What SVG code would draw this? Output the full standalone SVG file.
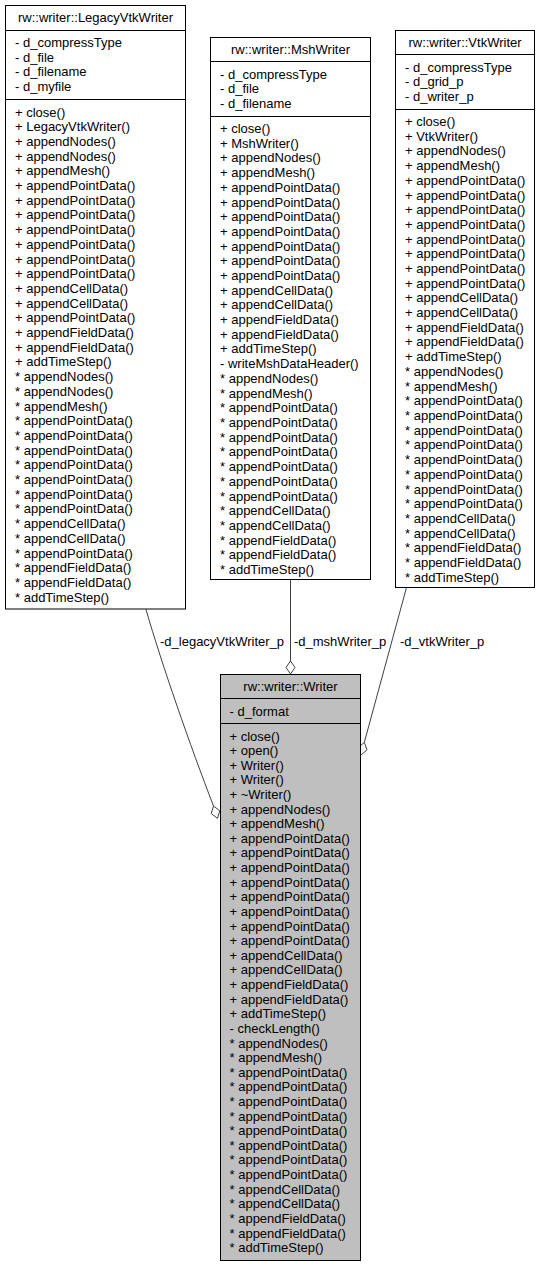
<svg xmlns="http://www.w3.org/2000/svg" width="541" height="1269" viewBox="0 0 541 1269">
<style>
text{font-family:"Liberation Sans",Arial,Helvetica,sans-serif;font-size:13px;fill:#000}
.t{text-anchor:middle}
.box{fill:#fff;stroke:#000;stroke-width:1}
.main{fill:#bfbfbf;stroke:#000;stroke-width:1}
.sep{stroke:#000;stroke-width:1}
.edge{fill:none;stroke:#404040;stroke-width:1}
.dia{fill:#fff;stroke:#404040;stroke-width:1}
</style>
<rect width="541" height="1269" fill="#fff"/>

<g id="connectors">
<path class="edge" d="M146,609.5 C162,665 190,745 213.5,806"/>
<polygon class="dia" points="213.5,806 219.8,810.8 217.5,818.4 211.2,813.6"/>
<path class="edge" d="M290.5,579.5 V661"/>
<polygon class="dia" points="290.5,661 295,667.5 290.5,674 286,667.5"/>
<path class="edge" d="M406.5,587.5 L364.3,742.4"/>
<polygon class="dia" points="364.3,742.4 367,749.85 361,755 358.3,747.55"/>
<text x="160" y="646">-d_legacyVtkWriter_p</text>
<text x="294" y="646">-d_mshWriter_p</text>
<text x="400" y="646">-d_vtkWriter_p</text>
</g>

<g id="LegacyVtkWriter">
<rect class="box" x="5.5" y="5.5" width="180" height="603.5"/>
<line class="sep" x1="5.5" y1="30.5" x2="185.5" y2="30.5"/>
<line class="sep" x1="5.5" y1="99.5" x2="185.5" y2="99.5"/>
<text class="t" x="95.5" y="22">rw::writer::LegacyVtkWriter</text>
<text x="15" y="47"><tspan x="15">- d_compressType</tspan><tspan x="15" dy="14.7">- d_file</tspan><tspan x="15" dy="14.7">- d_filename</tspan><tspan x="15" dy="14.7">- d_myfile</tspan></text>
<text x="15" y="116.5"><tspan x="15">+ close()</tspan><tspan x="15" dy="14.7">+ LegacyVtkWriter()</tspan><tspan x="15" dy="14.7">+ appendNodes()</tspan><tspan x="15" dy="14.7">+ appendNodes()</tspan><tspan x="15" dy="14.7">+ appendMesh()</tspan><tspan x="15" dy="14.7">+ appendPointData()</tspan><tspan x="15" dy="14.7">+ appendPointData()</tspan><tspan x="15" dy="14.7">+ appendPointData()</tspan><tspan x="15" dy="14.7">+ appendPointData()</tspan><tspan x="15" dy="14.7">+ appendPointData()</tspan><tspan x="15" dy="14.7">+ appendPointData()</tspan><tspan x="15" dy="14.7">+ appendPointData()</tspan><tspan x="15" dy="14.7">+ appendCellData()</tspan><tspan x="15" dy="14.7">+ appendCellData()</tspan><tspan x="15" dy="14.7">+ appendPointData()</tspan><tspan x="15" dy="14.7">+ appendFieldData()</tspan><tspan x="15" dy="14.7">+ appendFieldData()</tspan><tspan x="15" dy="14.7">+ addTimeStep()</tspan><tspan x="15" dy="14.7">* appendNodes()</tspan><tspan x="15" dy="14.7">* appendNodes()</tspan><tspan x="15" dy="14.7">* appendMesh()</tspan><tspan x="15" dy="14.7">* appendPointData()</tspan><tspan x="15" dy="14.7">* appendPointData()</tspan><tspan x="15" dy="14.7">* appendPointData()</tspan><tspan x="15" dy="14.7">* appendPointData()</tspan><tspan x="15" dy="14.7">* appendPointData()</tspan><tspan x="15" dy="14.7">* appendPointData()</tspan><tspan x="15" dy="14.7">* appendPointData()</tspan><tspan x="15" dy="14.7">* appendCellData()</tspan><tspan x="15" dy="14.7">* appendCellData()</tspan><tspan x="15" dy="14.7">* appendPointData()</tspan><tspan x="15" dy="14.7">* appendFieldData()</tspan><tspan x="15" dy="14.7">* appendFieldData()</tspan><tspan x="15" dy="14.7">* addTimeStep()</tspan></text>
</g>

<g id="MshWriter">
<rect class="box" x="210.5" y="37.5" width="160" height="542"/>
<line class="sep" x1="210.5" y1="61.5" x2="370.5" y2="61.5"/>
<line class="sep" x1="210.5" y1="116.5" x2="370.5" y2="116.5"/>
<text class="t" x="290.5" y="54">rw::writer::MshWriter</text>
<text x="220" y="78.5"><tspan x="220">- d_compressType</tspan><tspan x="220" dy="14.7">- d_file</tspan><tspan x="220" dy="14.7">- d_filename</tspan></text>
<text x="220" y="133"><tspan x="220">+ close()</tspan><tspan x="220" dy="14.7">+ MshWriter()</tspan><tspan x="220" dy="14.7">+ appendNodes()</tspan><tspan x="220" dy="14.7">+ appendMesh()</tspan><tspan x="220" dy="14.7">+ appendPointData()</tspan><tspan x="220" dy="14.7">+ appendPointData()</tspan><tspan x="220" dy="14.7">+ appendPointData()</tspan><tspan x="220" dy="14.7">+ appendPointData()</tspan><tspan x="220" dy="14.7">+ appendPointData()</tspan><tspan x="220" dy="14.7">+ appendPointData()</tspan><tspan x="220" dy="14.7">+ appendPointData()</tspan><tspan x="220" dy="14.7">+ appendCellData()</tspan><tspan x="220" dy="14.7">+ appendCellData()</tspan><tspan x="220" dy="14.7">+ appendFieldData()</tspan><tspan x="220" dy="14.7">+ appendFieldData()</tspan><tspan x="220" dy="14.7">+ addTimeStep()</tspan><tspan x="220" dy="14.7">- writeMshDataHeader()</tspan><tspan x="220" dy="14.7">* appendNodes()</tspan><tspan x="220" dy="14.7">* appendMesh()</tspan><tspan x="220" dy="14.7">* appendPointData()</tspan><tspan x="220" dy="14.7">* appendPointData()</tspan><tspan x="220" dy="14.7">* appendPointData()</tspan><tspan x="220" dy="14.7">* appendPointData()</tspan><tspan x="220" dy="14.7">* appendPointData()</tspan><tspan x="220" dy="14.7">* appendPointData()</tspan><tspan x="220" dy="14.7">* appendPointData()</tspan><tspan x="220" dy="14.7">* appendCellData()</tspan><tspan x="220" dy="14.7">* appendCellData()</tspan><tspan x="220" dy="14.7">* appendFieldData()</tspan><tspan x="220" dy="14.7">* appendFieldData()</tspan><tspan x="220" dy="14.7">* addTimeStep()</tspan></text>
</g>

<g id="VtkWriter">
<rect class="box" x="395.5" y="30.5" width="139" height="557"/>
<line class="sep" x1="395.5" y1="54.5" x2="534.5" y2="54.5"/>
<line class="sep" x1="395.5" y1="109.5" x2="534.5" y2="109.5"/>
<text class="t" x="465" y="47">rw::writer::VtkWriter</text>
<text x="405" y="71.5"><tspan x="405">- d_compressType</tspan><tspan x="405" dy="14.7">- d_grid_p</tspan><tspan x="405" dy="14.7">- d_writer_p</tspan></text>
<text x="405" y="126"><tspan x="405">+ close()</tspan><tspan x="405" dy="14.7">+ VtkWriter()</tspan><tspan x="405" dy="14.7">+ appendNodes()</tspan><tspan x="405" dy="14.7">+ appendMesh()</tspan><tspan x="405" dy="14.7">+ appendPointData()</tspan><tspan x="405" dy="14.7">+ appendPointData()</tspan><tspan x="405" dy="14.7">+ appendPointData()</tspan><tspan x="405" dy="14.7">+ appendPointData()</tspan><tspan x="405" dy="14.7">+ appendPointData()</tspan><tspan x="405" dy="14.7">+ appendPointData()</tspan><tspan x="405" dy="14.7">+ appendPointData()</tspan><tspan x="405" dy="14.7">+ appendPointData()</tspan><tspan x="405" dy="14.7">+ appendCellData()</tspan><tspan x="405" dy="14.7">+ appendCellData()</tspan><tspan x="405" dy="14.7">+ appendFieldData()</tspan><tspan x="405" dy="14.7">+ appendFieldData()</tspan><tspan x="405" dy="14.7">+ addTimeStep()</tspan><tspan x="405" dy="14.7">* appendNodes()</tspan><tspan x="405" dy="14.7">* appendMesh()</tspan><tspan x="405" dy="14.7">* appendPointData()</tspan><tspan x="405" dy="14.7">* appendPointData()</tspan><tspan x="405" dy="14.7">* appendPointData()</tspan><tspan x="405" dy="14.7">* appendPointData()</tspan><tspan x="405" dy="14.7">* appendPointData()</tspan><tspan x="405" dy="14.7">* appendPointData()</tspan><tspan x="405" dy="14.7">* appendPointData()</tspan><tspan x="405" dy="14.7">* appendPointData()</tspan><tspan x="405" dy="14.7">* appendCellData()</tspan><tspan x="405" dy="14.7">* appendCellData()</tspan><tspan x="405" dy="14.7">* appendFieldData()</tspan><tspan x="405" dy="14.7">* appendFieldData()</tspan><tspan x="405" dy="14.7">* addTimeStep()</tspan></text>
</g>

<g id="Writer">
<rect class="main" x="220.5" y="674.5" width="140" height="586"/>
<line class="sep" x1="220.5" y1="698.5" x2="360.5" y2="698.5"/>
<line class="sep" x1="220.5" y1="723.5" x2="360.5" y2="723.5"/>
<text class="t" x="290.5" y="691">rw::writer::Writer</text>
<text x="229.5" y="715.5">- d_format</text>
<text x="229.5" y="740.5"><tspan x="229.5">+ close()</tspan><tspan x="229.5" dy="14.62">+ open()</tspan><tspan x="229.5" dy="14.62">+ Writer()</tspan><tspan x="229.5" dy="14.62">+ Writer()</tspan><tspan x="229.5" dy="14.62">+ ~Writer()</tspan><tspan x="229.5" dy="14.62">+ appendNodes()</tspan><tspan x="229.5" dy="14.62">+ appendMesh()</tspan><tspan x="229.5" dy="14.62">+ appendPointData()</tspan><tspan x="229.5" dy="14.62">+ appendPointData()</tspan><tspan x="229.5" dy="14.62">+ appendPointData()</tspan><tspan x="229.5" dy="14.62">+ appendPointData()</tspan><tspan x="229.5" dy="14.62">+ appendPointData()</tspan><tspan x="229.5" dy="14.62">+ appendPointData()</tspan><tspan x="229.5" dy="14.62">+ appendPointData()</tspan><tspan x="229.5" dy="14.62">+ appendPointData()</tspan><tspan x="229.5" dy="14.62">+ appendCellData()</tspan><tspan x="229.5" dy="14.62">+ appendCellData()</tspan><tspan x="229.5" dy="14.62">+ appendFieldData()</tspan><tspan x="229.5" dy="14.62">+ appendFieldData()</tspan><tspan x="229.5" dy="14.62">+ addTimeStep()</tspan><tspan x="229.5" dy="14.62">- checkLength()</tspan><tspan x="229.5" dy="14.62">* appendNodes()</tspan><tspan x="229.5" dy="14.62">* appendMesh()</tspan><tspan x="229.5" dy="14.62">* appendPointData()</tspan><tspan x="229.5" dy="14.62">* appendPointData()</tspan><tspan x="229.5" dy="14.62">* appendPointData()</tspan><tspan x="229.5" dy="14.62">* appendPointData()</tspan><tspan x="229.5" dy="14.62">* appendPointData()</tspan><tspan x="229.5" dy="14.62">* appendPointData()</tspan><tspan x="229.5" dy="14.62">* appendPointData()</tspan><tspan x="229.5" dy="14.62">* appendPointData()</tspan><tspan x="229.5" dy="14.62">* appendCellData()</tspan><tspan x="229.5" dy="14.62">* appendCellData()</tspan><tspan x="229.5" dy="14.62">* appendFieldData()</tspan><tspan x="229.5" dy="14.62">* appendFieldData()</tspan><tspan x="229.5" dy="14.62">* addTimeStep()</tspan></text>
</g>
</svg>
